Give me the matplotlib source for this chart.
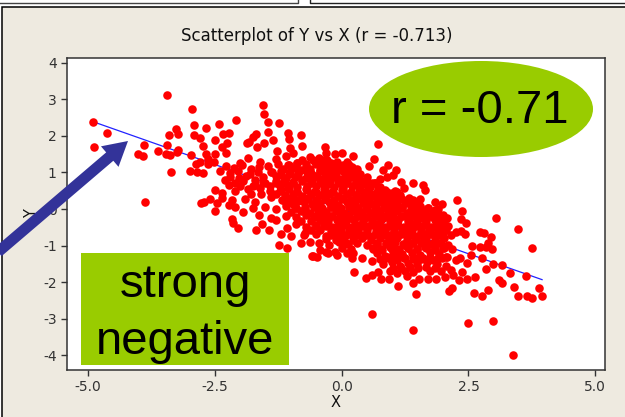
import matplotlib
matplotlib.use("Agg")
from matplotlib import pyplot as plt
from matplotlib.patches import Ellipse, Rectangle, FancyArrow

plt.rcParams['axes.unicode_minus'] = False

title = "Scatterplot of Y vs X (r = -0.713)"
xticks = [-5.0, -2.5, 0.0, 2.5, 5.0]
xlabels = ["-5.0", "-2.5", "0.0", "2.5", "5.0"]
yticks = [-4, -3, -2, -1, 0, 1, 2, 3, 4]

# fitted line ends
line_x = [-4.90, 3.95]
line_y = [2.39, -1.93]

# loose points above the cloud
upper_x = [-4.90, -4.62, -4.88, -3.44, -2.95, -2.91, -2.67, -2.41, -2.08, -3.27,
           -3.41, -3.23, -2.90, -2.79, -2.49, -2.33, -2.21, -3.89, -3.44, -4.01,
           -3.92, -3.62, -3.46, -3.38, -3.23, -3.25, -2.97, -3.36, -3.87, -2.99,
           -2.85, -2.73, -2.87, -2.79, -2.73, -2.68, -2.49, -2.64, -2.52, -2.64,
           -2.26, -2.36, -2.28, -1.54, -1.53, -1.45, -1.24, -1.45, -1.05, -1.04,
           -0.80, -0.78, -1.68, -1.74, -1.82, -1.86, -1.36, -1.53, -1.67, -1.28,
           -1.01, 0.71, 0.63, 0.54, -0.33, -0.31, -0.13, 0.00, 0.23, -0.36,
           -0.33, -0.57, 0.92, 0.82, 1.07, 1.02, 0.90, 0.76, 0.66, 1.17,
           1.22, 1.41, 1.61, 1.65, 1.84, 1.55, 1.32, 1.09, 1.84, 1.81]
upper_y = [2.37, 2.07, 1.69, 3.13, 2.74, 2.29, 2.22, 2.32, 2.44, 2.20,
           2.02, 2.04, 2.02, 1.93, 1.90, 2.04, 2.07, 1.74, 1.74, 1.51,
           1.44, 1.60, 1.51, 1.47, 1.61, 1.55, 1.48, 1.02, 0.18, 1.05,
           1.00, 0.99, 1.23, 1.29, 1.72, 1.50, 1.50, 1.36, 1.30, 1.22,
           1.81, 1.69, 1.52, 2.84, 2.59, 2.38, 2.35, 2.12, 2.09, 1.92,
           2.02, 1.73, 2.06, 1.96, 1.84, 1.80, 1.89, 1.80, 1.69, 1.59,
           1.66, 1.78, 1.36, 1.18, 1.69, 1.52, 1.51, 1.54, 1.45, 1.34,
           1.18, 1.34, 1.20, 1.07, 1.07, 0.93, 0.88, 0.81, 0.70, 0.75,
           0.58, 0.70, 0.66, 0.52, 0.20, 0.09, 0.29, 0.47, -0.03, -0.21]

# dense middle of the cloud, read band by band
core_x = [-1.3, -1.1, -0.95, -0.78, -0.62, -0.45, -0.28, -0.1, 0.1,
          -2.0, -1.85, -1.6, -1.45, -1.25, -1.05, -0.88, -0.7, -0.5, -0.32, -0.15, 0.02, 0.2, 0.3,
          -2.4, -2.2, -2.05, -1.8, -1.65, -1.4, -1.2, -1.02, -0.85, -0.68, -0.48, -0.3, -0.12, 0.05, 0.22, 0.36,
          -2.3, -2.1, -1.95, -1.7, -1.5, -1.3, -1.15, -0.95, -0.78, -0.6, -0.42, -0.25, -0.08, 0.1, 0.28, 0.45, 0.6,
          -2.5, -2.35, -2.1, -1.85, -1.6, -1.42, -1.2, -1.05, -0.88, -0.7, -0.52, -0.35, -0.18, 0.0, 0.18, 0.35, 0.5, 0.68, 0.85, 1.0,
          -2.6, -2.35, -2.15, -1.9, -1.7, -1.4, -1.18, -1.0, -0.85, -0.68, -0.5, -0.32, -0.15, 0.02, 0.2, 0.38, 0.55, 0.72, 0.9, 1.08, 1.25, 1.4,
          -1.5, -1.3, -1.1, -0.9, -0.72, -0.55, -0.38, -0.2, -0.02, 0.15, 0.32, 0.5, 0.68, 0.85, 1.02, 1.2, 1.38, 1.55, 1.7,
          -1.1, -0.9, -0.7, -0.55, -0.38, -0.2, -0.05, 0.12, 0.3, 0.48, 0.65, 0.82, 1.0, 1.18, 1.35, 1.52, 1.7, 1.88, 2.0,
          -0.9, -0.7, -0.5, -0.35, -0.18, 0.0, 0.18, 0.35, 0.52, 0.7, 0.88, 1.05, 1.22, 1.4, 1.58, 1.75, 1.92, 2.1,
          -0.75, -0.5, -0.3, -0.1, 0.08, 0.25, 0.42, 0.6, 0.78, 0.95, 1.12, 1.3, 1.48, 1.65, 1.82, 2.0, 2.15,
          -0.45, -0.25, -0.05, 0.12, 0.3, 0.5, 0.7, 0.88, 1.05, 1.22, 1.4, 1.6, 1.78, 1.95, 2.1,
          -0.3, -0.1, 0.1, 0.7, 0.85, 1.02, 1.2, 1.38, 1.55, 1.75, 1.92, 2.05,
          0.82, 1.0, 1.15, 1.3, 1.48, 1.68, 1.88, 2.05,
          0.95, 1.1, 1.25, 1.4, 1.75, 1.95]
core_y = [1.38, 1.45, 1.52, 1.35, 1.42, 1.40, 1.33, 1.30, 1.28,
          1.25, 1.4, 1.3, 1.18, 1.22, 1.2, 1.25, 1.15, 1.22, 1.1, 1.18, 1.2, 1.15, 1.1,
          1.05, 0.98, 1.05, 0.95, 1.02, 1.0, 0.92, 1.0, 0.95, 1.02, 0.9, 0.98, 0.92, 1.0, 0.9, 0.95,
          0.8, 0.72, 0.78, 0.8, 0.72, 0.78, 0.7, 0.74, 0.8, 0.7, 0.76, 0.68, 0.78, 0.72, 0.78, 0.68, 0.72,
          0.52, 0.45, 0.5, 0.55, 0.58, 0.5, 0.52, 0.58, 0.48, 0.55, 0.5, 0.56, 0.48, 0.52, 0.46, 0.55, 0.5, 0.45, 0.52, 0.44,
          0.28, 0.3, 0.25, 0.28, 0.2, 0.32, 0.26, 0.3, 0.22, 0.28, 0.24, 0.32, 0.25, 0.3, 0.22, 0.28, 0.32, 0.24, 0.26, 0.3, 0.22, 0.26,
          0.06, 0.0, 0.08, 0.02, 0.05, 0.08, 0.0, 0.05, 0.02, 0.08, 0.04, 0.0, 0.06, 0.02, 0.08, 0.03, 0.05, 0.0, 0.04,
          -0.18, -0.22, -0.15, -0.22, -0.18, -0.2, -0.25, -0.15, -0.2, -0.22, -0.18, -0.24, -0.16, -0.2, -0.22, -0.16, -0.2, -0.24, -0.15,
          -0.42, -0.5, -0.45, -0.42, -0.48, -0.42, -0.5, -0.44, -0.46, -0.42, -0.5, -0.44, -0.48, -0.42, -0.46, -0.5, -0.42, -0.46,
          -0.72, -0.68, -0.74, -0.66, -0.72, -0.68, -0.7, -0.74, -0.66, -0.7, -0.72, -0.66, -0.74, -0.68, -0.72, -0.66, -0.7,
          -0.92, -0.98, -0.9, -0.96, -0.92, -0.98, -0.92, -0.96, -0.9, -0.98, -0.94, -0.9, -0.96, -0.92, -0.98,
          -1.18, -1.25, -1.2, -1.2, -1.28, -1.18, -1.24, -1.2, -1.26, -1.18, -1.22, -1.3,
          -1.5, -1.45, -1.55, -1.48, -1.5, -1.45, -1.5, -1.55,
          -1.7, -1.75, -1.68, -1.72, -1.7, -1.68]

# second pass over the solid part, between the first bands
fill_x = [-1.15, -0.98, -0.8, -0.62, -0.42, -0.22, -0.05, 0.12,
          -1.55, -1.3, -1.1, -0.92, -0.7, -0.52, -0.35, -0.18, 0.0, 0.18, 0.34, 0.5,
          -1.7, -1.42, -1.22, -1.05, -0.88, -0.68, -0.5, -0.32, -0.15, 0.02, 0.2, 0.38, 0.55, 0.75,
          -1.3, -1.12, -0.95, -0.78, -0.6, -0.42, -0.25, -0.08, 0.1, 0.28, 0.45, 0.62, 0.8, 0.98, 1.15,
          -1.1, -0.95, -0.75, -0.58, -0.42, -0.25, -0.08, 0.1, 0.27, 0.42, 0.6, 0.78, 0.95, 1.1, 1.28, 1.46,
          -1.0, -0.8, -0.63, -0.46, -0.3, -0.12, 0.05, 0.22, 0.4, 0.57, 0.75, 0.92, 1.1, 1.28, 1.45, 1.62, 1.8,
          -0.8, -0.6, -0.43, -0.27, -0.1, 0.08, 0.25, 0.42, 0.6, 0.78, 0.95, 1.12, 1.3, 1.48, 1.66, 1.84, 2.02,
          -0.6, -0.42, -0.2, -0.02, 0.15, 0.33, 0.5, 0.68, 0.86, 1.03, 1.2, 1.38, 1.56, 1.72, 1.9, 2.05,
          -0.3, -0.12, 0.05, 0.22, 0.4, 0.58, 0.76, 0.93, 1.1, 1.28, 1.46, 1.66, 1.85, 2.02,
          0.0, 0.18, 0.62, 0.78, 0.96, 1.12, 1.3, 1.48, 1.65, 1.84, 2.0,
          0.75, 0.92, 1.1, 1.24, 1.42, 1.6, 1.8, 1.98]
fill_y = [1.1, 1.12, 1.06, 1.1, 1.08, 1.06, 1.12, 1.04,
          0.88, 0.9, 0.84, 0.88, 0.84, 0.9, 0.84, 0.88, 0.82, 0.88, 0.84, 0.88,
          0.66, 0.64, 0.62, 0.66, 0.6, 0.64, 0.62, 0.68, 0.6, 0.64, 0.62, 0.66, 0.6, 0.6,
          0.42, 0.38, 0.42, 0.36, 0.42, 0.38, 0.42, 0.36, 0.4, 0.38, 0.42, 0.36, 0.4, 0.36, 0.38,
          0.16, 0.14, 0.18, 0.14, 0.16, 0.18, 0.12, 0.18, 0.13, 0.16, 0.14, 0.18, 0.12, 0.15, 0.16, 0.13,
          -0.08, -0.05, -0.1, -0.06, -0.08, -0.04, -0.1, -0.06, -0.08, -0.1, -0.05, -0.08, -0.06, -0.1, -0.06, -0.08, -0.1,
          -0.32, -0.34, -0.3, -0.34, -0.3, -0.34, -0.3, -0.32, -0.34, -0.3, -0.34, -0.3, -0.34, -0.3, -0.33, -0.3, -0.34,
          -0.58, -0.56, -0.6, -0.56, -0.6, -0.56, -0.58, -0.6, -0.56, -0.6, -0.56, -0.58, -0.6, -0.56, -0.6, -0.57,
          -0.82, -0.84, -0.8, -0.84, -0.8, -0.84, -0.8, -0.84, -0.8, -0.84, -0.82, -0.8, -0.84, -0.8,
          -1.06, -1.08, -1.06, -1.08, -1.04, -1.08, -1.06, -1.08, -1.04, -1.08, -1.06,
          -1.36, -1.34, -1.38, -1.34, -1.36, -1.34, -1.38, -1.34]

# third pass, columns set off from the first two
solid_x = [-1.03, -0.87, -0.7, -0.53, -0.36, -0.2, -0.03, 0.14,
           -1.38, -1.2, -1.03, -0.86, -0.6, -0.43, -0.25, -0.09, 0.1, 0.27,
           -1.55, -1.3, -1.13, -0.96, -0.78, -0.59, -0.41, -0.23, -0.06, 0.11, 0.29, 0.46, 0.65,
           -1.22, -1.04, -0.87, -0.69, -0.51, -0.33, -0.16, 0.02, 0.19, 0.37, 0.54, 0.71, 0.89, 1.06,
           -1.02, -0.85, -0.66, -0.5, -0.33, -0.16, 0.01, 0.18, 0.35, 0.51, 0.69, 0.86, 1.03, 1.19, 1.37, 1.55,
           -0.9, -0.72, -0.55, -0.38, -0.21, -0.03, 0.14, 0.31, 0.49, 0.66, 0.84, 1.01, 1.19, 1.37, 1.54, 1.71, 1.89,
           -0.51, -0.35, -0.18, 0.0, 0.16, 0.34, 0.51, 0.69, 0.87, 1.04, 1.21, 1.39, 1.57, 1.75, 1.93,
           -0.51, -0.31, -0.11, 0.06, 0.24, 0.42, 0.59, 0.77, 0.95, 1.12, 1.29, 1.47, 1.64, 1.81, 1.98,
           -0.21, -0.03, 0.14, 0.31, 0.49, 0.67, 0.85, 1.02, 1.19, 1.37, 1.56, 1.76, 1.94,
           0.09, 0.7, 0.87, 1.04, 1.21, 1.39, 1.57, 1.75, 1.92]
solid_y = [1.2, 1.26, 1.22, 1.28, 1.2, 1.25, 1.16, 1.2,
           1.0, 1.04, 0.96, 1.06, 0.98, 1.04, 0.96, 1.04, 0.96, 1.02,
           0.74, 0.7, 0.78, 0.72, 0.76, 0.8, 0.7, 0.76, 0.72, 0.78, 0.7, 0.76, 0.7,
           0.5, 0.54, 0.48, 0.52, 0.46, 0.52, 0.48, 0.56, 0.48, 0.52, 0.48, 0.54, 0.48, 0.5,
           0.28, 0.24, 0.3, 0.26, 0.28, 0.22, 0.28, 0.24, 0.3, 0.26, 0.22, 0.3, 0.24, 0.28, 0.24, 0.28,
           0.04, 0.0, 0.06, 0.02, 0.06, 0.0, 0.05, 0.02, 0.06, 0.0, 0.06, 0.02, 0.06, 0.0, 0.05, 0.02, 0.0,
           -0.2, -0.22, -0.18, -0.2, -0.24, -0.18, -0.22, -0.2, -0.18, -0.24, -0.2, -0.18, -0.24, -0.2, -0.18,
           -0.44, -0.46, -0.48, -0.44, -0.48, -0.46, -0.44, -0.48, -0.46, -0.44, -0.48, -0.46, -0.44, -0.48, -0.46,
           -0.7, -0.72, -0.68, -0.72, -0.7, -0.68, -0.72, -0.7, -0.68, -0.72, -0.7, -0.68, -0.72,
           -0.94, -0.96, -0.94, -0.92, -0.96, -0.94, -0.92, -0.96, -0.94]

# lower right shoulder and upper left shoulder of the cloud
shoulder_x = [0.62, 0.8, 0.97, 1.14, 1.31, 1.49, 1.67, 1.85, 2.02, 2.18,
              0.9, 1.06, 1.22, 1.4, 1.57, 1.74, 1.9, 2.08,
              1.02, 1.18, 1.34, 1.5, 1.66, 1.85,
              -2.28, -2.12, -1.97, -1.78, -1.62, -2.2, -2.02, -1.88, -1.74, -2.22, -2.0, -1.78, -1.58]
shoulder_y = [-1.08, -1.12, -1.06, -1.12, -1.06, -1.1, -1.06, -1.12, -1.06, -1.1,
              -1.32, -1.28, -1.34, -1.3, -1.36, -1.3, -1.34, -1.3,
              -1.6, -1.62, -1.58, -1.62, -1.58, -1.62,
              1.18, 1.12, 1.2, 1.1, 1.16, 0.88, 0.86, 0.9, 0.62, 0.66, 0.62, 0.4, 0.42]

# loose points to the lower right and along the lower edge
lower_x = [2.28, 1.98, 2.37, 2.08, 3.04, 2.35, 2.45, 3.48, 3.75, 2.73, 2.81, 2.95, 2.89, 2.85, 2.97,
           2.73, 2.56, 2.77, 2.55, 3.16, 2.99, 2.84, 3.32, 3.64, 3.10, 3.16, 3.40, 3.88, 2.89, 2.60,
           2.18, 2.12, 2.77, 3.48, 3.66, 3.75, 3.94, 2.63, 2.47, 2.47, 2.38, 2.32, 2.15, 2.20, 2.04,
           1.86, 2.26, 2.33, 2.43, 2.26, 2.35, 0.60, 1.41, 2.50, 2.99, 3.38, 1.47, 1.11, 0.24, 0.48,
           0.60, 0.71, 0.78, 0.94, 1.40, 1.52, 1.28, 1.71, 0.60, 0.40, 0.21, -0.13, -0.56, -0.26, -0.42,
           0.0, 0.23, -2.72, -2.77, -2.45, -2.49, -2.21, -2.10, -1.95, -2.16, -2.14, -2.04, -1.63, -1.74,
           -1.57, -1.68, -1.43, -1.39, -1.29, -1.19, -1.00, -1.24, -1.07, -0.80, -0.59, -0.49, -0.72,
           -0.62, -1.08]
lower_y = [0.25, 0.13, -0.05, -0.25, -0.25, -0.28, -0.37, -0.55, -1.06, -0.63, -0.66, -0.77, -0.92, -1.05, -1.09,
           -1.05, -1.02, -1.33, -1.26, -1.52, -1.50, -1.63, -1.74, -1.84, -1.94, -2.03, -2.12, -2.17, -2.22, -2.29,
           -2.15, -2.24, -2.38, -2.38, -2.38, -2.44, -2.38, -1.87, -1.47, -1.90, -1.71, -1.94, -1.67, -1.81, -1.87,
           -1.92, -1.40, -1.35, -0.67, -0.62, -0.59, -2.86, -3.32, -3.11, -3.07, -3.98, -2.33, -2.11, -1.72, -1.89,
           -1.81, -1.72, -1.92, -1.90, -2.02, -1.92, -1.83, -1.90, -1.41, -1.35, -1.35, -1.17, -1.29, -1.20, -1.12,
           -0.90, -1.21, 0.20, 0.16, 0.17, -0.04, 0.11, 0.05, -0.07, -0.28, -0.37, -0.51, -0.16, 0.04,
           -0.42, -0.57, -0.57, -0.24, -0.30, -0.69, -0.73, -0.99, -1.06, -0.92, -1.28, -1.31, -0.66,
           -0.89, -0.53]

bg = '#EEEAE0'
green = '#99CC00'

fig = plt.figure(figsize=(6.25, 4.17), dpi=100, facecolor='white')

# window frame behind everything
frame = fig.add_axes([0, 0, 1, 1], zorder=0)
frame.set_xlim(0, 625)
frame.set_ylim(417, 0)
frame.axis('off')
frame.add_patch(Rectangle((1.5, 6.5), 640, 420, fc=bg, ec='black', lw=1.1))
frame.plot([0, 298, 298], [3, 3, 0], color='#444444', lw=1)
frame.plot([310, 310, 625], [0, 3, 3], color='#222222', lw=1)

ax = fig.add_axes([66.5 / 625, 1 - 370 / 417, 538 / 625, 312 / 417], zorder=1)
ax.set_xlim(-5.42, 5.18)
ax.set_ylim(-4.40, 4.13)
ax.plot(line_x, line_y, color='#2222FF', lw=0.9, zorder=2)
ax.scatter(upper_x + core_x + fill_x + solid_x + shoulder_x + lower_x,
           upper_y + core_y + fill_y + solid_y + shoulder_y + lower_y,
           s=38, color='#FF0000', linewidths=0, zorder=3)
ax.set_xticks(xticks)
ax.set_xticklabels(xlabels)
ax.set_yticks(yticks)
ax.tick_params(length=4, width=1, color='#333333', labelsize=10, labelcolor='#333333', pad=3)
ax.set_xlabel("X", fontsize=10.5, color='#111111', labelpad=1)
ax.set_ylabel("Y", fontsize=10.5, color='#111111', labelpad=3)
for s in ax.spines.values():
    s.set_color('#333333')
    s.set_linewidth(1.1)
fig.text(317 / 625, 1 - 36 / 417, title, ha='center', va='center', fontsize=12, color='#111111')

# slide annotations on top, placed in pixels
over = fig.add_axes([0, 0, 1, 1], zorder=2)
over.set_xlim(0, 625)
over.set_ylim(417, 0)
over.axis('off')
over.patch.set_alpha(0)
over.add_patch(Ellipse((481, 109), 224, 96, fc=green, ec='none'))
over.text(480, 111, "r = -0.71", ha='center', va='center', fontsize=34, family='Liberation Sans', color='black')
over.add_patch(Rectangle((81, 253), 208, 112, fc=green, ec='none'))
over.text(185, 285, "strong", ha='center', va='center', fontsize=34, family='Liberation Sans', color='black')
over.text(185, 342, "negative", ha='center', va='center', fontsize=34, family='Liberation Sans', color='black')
over.add_patch(FancyArrow(-2, 252, 130, -111, width=11, head_width=27, head_length=24,
                          length_includes_head=True, fc='#333399', ec='none', clip_on=False))

fig.savefig("out.png", dpi=100)
